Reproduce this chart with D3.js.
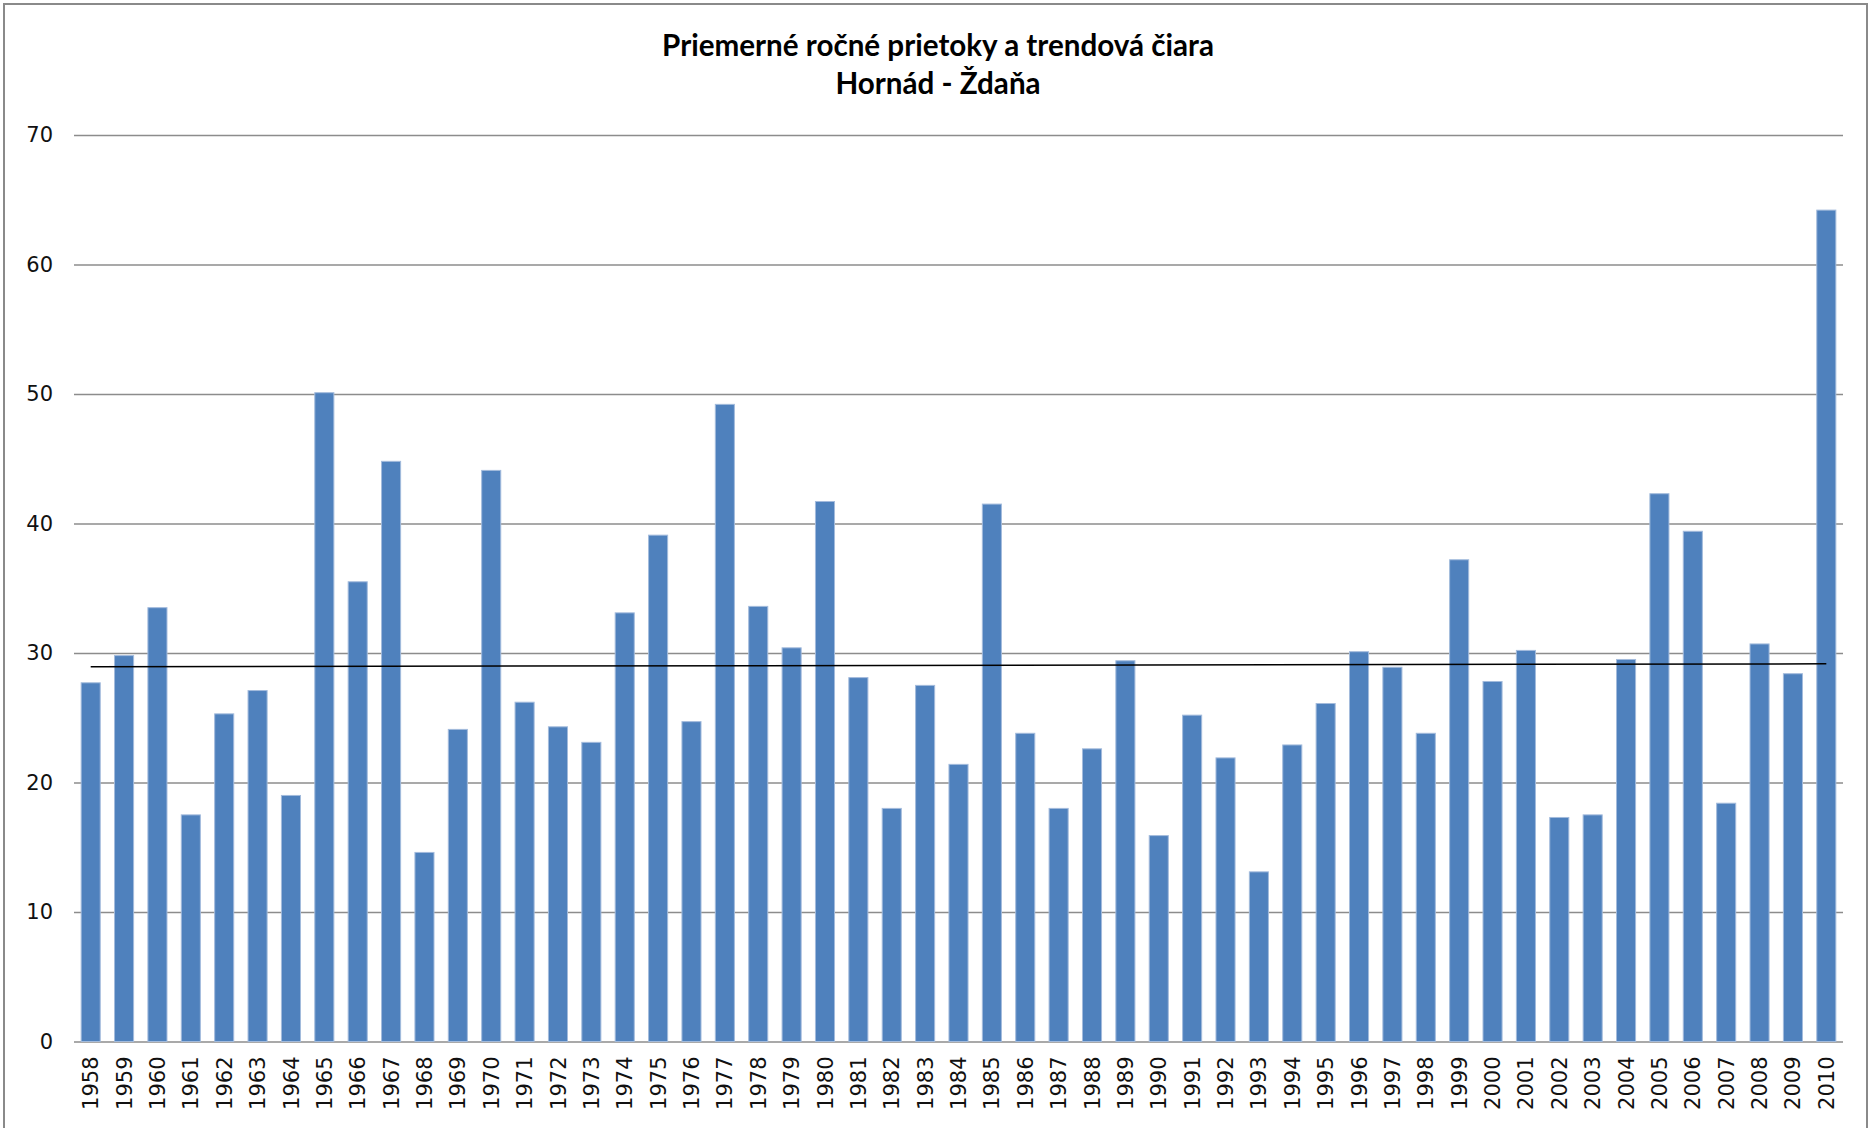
<!DOCTYPE html>
<html>
<head>
<meta charset="utf-8">
<script src="https://cdn.jsdelivr.net/npm/d3@7/dist/d3.min.js"></script>
<style>
  html, body { margin: 0; padding: 0; background: #fff; }
  svg { display: block; }
</style>
</head>
<body>
<svg id="chart" width="1870" height="1128"></svg>
<script>
// Average annual discharge, Hornád at Ždaňa
const titleLines = ["Priemerné ročné prietoky a trendová čiara", "Hornád - Ždaňa"];

const years = [
  "1958","1959","1960","1961","1962","1963","1964","1965","1966","1967",
  "1968","1969","1970","1971","1972","1973","1974","1975","1976","1977",
  "1978","1979","1980","1981","1982","1983","1984","1985","1986","1987",
  "1988","1989","1990","1991","1992","1993","1994","1995","1996","1997",
  "1998","1999","2000","2001","2002","2003","2004","2005","2006","2007",
  "2008","2009","2010"
];

const discharge = [
  27.7, 29.8, 33.5, 17.5, 25.3, 27.1, 19.0, 50.1, 35.5, 44.8,
  14.6, 24.1, 44.1, 26.2, 24.3, 23.1, 33.1, 39.1, 24.7, 49.2,
  33.6, 30.4, 41.7, 28.1, 18.0, 27.5, 21.4, 41.5, 23.8, 18.0,
  22.6, 29.4, 15.9, 25.2, 21.9, 13.1, 22.9, 26.1, 30.1, 28.9,
  23.8, 37.2, 27.8, 30.2, 17.3, 17.5, 29.5, 42.3, 39.4, 18.4,
  30.7, 28.4, 64.2
];

const yTicks = [0, 10, 20, 30, 40, 50, 60, 70];

const svg = d3.select("#chart");
const plot = { left: 74, right: 1843, top: 135, bottom: 1041.5 };

// chart frame
svg.append("rect")
  .attr("x", 4).attr("y", 4)
  .attr("width", 1863).attr("height", 1140)
  .attr("fill", "#fff")
  .attr("stroke", "#8a8a8a")
  .attr("stroke-width", 2);

const x = d3.scaleBand()
  .domain(years)
  .range([plot.left, plot.right])
  .paddingInner(0.4286)
  .paddingOuter(0.2143);

const y = d3.scaleLinear()
  .domain([0, 70])
  .range([plot.bottom, plot.top]);

// value axis with gridlines
const yAxis = svg.append("g")
  .attr("transform", `translate(${plot.left},0)`)
  .call(d3.axisLeft(y)
    .tickValues(yTicks)
    .tickSize(-(plot.right - plot.left))
    .tickPadding(21)
    .tickFormat(d3.format("d")));
yAxis.select(".domain").remove();
yAxis.selectAll(".tick line")
  .attr("stroke", "#8c8c8c")
  .attr("stroke-width", 1.6);
yAxis.selectAll(".tick text")
  .attr("fill", "#111")
  .style("font-family", "'DejaVu Sans', Verdana, sans-serif")
  .style("font-size", "21px");

// bars
svg.append("g")
  .selectAll("rect")
  .data(discharge)
  .join("rect")
  .attr("x", (d, i) => x(years[i]))
  .attr("y", d => y(d))
  .attr("width", x.bandwidth())
  .attr("height", d => y(0) - y(d))
  .attr("fill", "#4f81bd")
  .attr("stroke", "#a3bbdc")
  .attr("stroke-width", 1);

// category axis with rotated year labels
const xAxis = svg.append("g")
  .attr("transform", `translate(0,${plot.bottom})`)
  .call(d3.axisBottom(x).tickSize(0));
xAxis.select(".domain").remove();
xAxis.selectAll(".tick text")
  .attr("transform", "rotate(-90)")
  .attr("x", -15)
  .attr("y", 0)
  .attr("dy", "0.36em")
  .attr("text-anchor", "end")
  .attr("fill", "#111")
  .style("font-family", "'DejaVu Sans', Verdana, sans-serif")
  .style("font-size", "21px");

// linear trend (least squares over the years)
const n = discharge.length;
const idx = d3.range(n);
const mx = d3.mean(idx), my = d3.mean(discharge);
const slope = d3.sum(idx, i => (i - mx) * (discharge[i] - my)) / d3.sum(idx, i => (i - mx) ** 2);
const intercept = my - slope * mx;
const trend = [0, n - 1].map(i => [x(years[i]) + x.bandwidth() / 2, y(intercept + slope * i)]);
svg.append("path")
  .attr("d", d3.line()(trend))
  .attr("fill", "none")
  .attr("stroke", "#000")
  .attr("stroke-width", 1.5);

// title
const title = svg.append("text")
  .attr("x", 938)
  .attr("text-anchor", "middle")
  .attr("fill", "#000")
  .style("font-family", "'Lato', sans-serif")
  .style("font-weight", "bold")
  .style("font-size", "29.6px");
title.selectAll("tspan")
  .data(titleLines)
  .join("tspan")
  .attr("x", 938)
  .attr("y", (d, i) => 56 + i * 38)
  .text(d => d);
</script>
</body>
</html>
